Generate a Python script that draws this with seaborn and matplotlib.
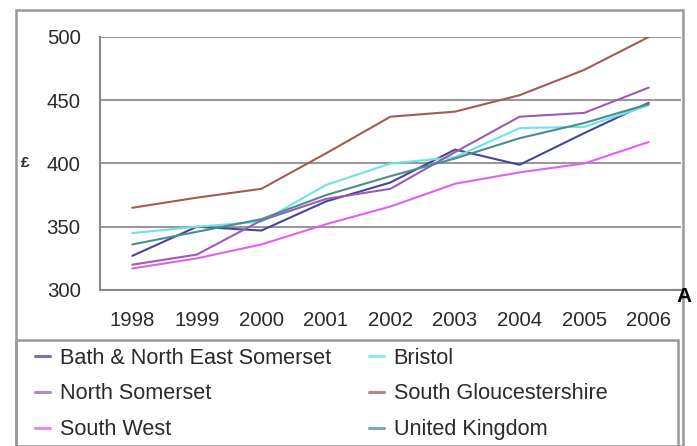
import pandas as pd
import seaborn as sns
import matplotlib.pyplot as plt
from matplotlib.patches import Rectangle
from matplotlib.ticker import FixedLocator

# --- Data ---
years = ["1998", "1999", "2000", "2001", "2002", "2003", "2004", "2005", "2006"]
bath_nes = [327, 350, 347, 370, 385, 411, 399, 424, 448]
bristol = [345, 350, 354, 383, 400, 405, 428, 429, 446]
north_somerset = [320, 328, 355, 372, 380, 409, 437, 440, 460]
south_glos = [365, 373, 380, 408, 437, 441, 454, 474, 500]
south_west = [317, 325, 336, 352, 366, 384, 393, 400, 417]
uk = [336, 346, 356, 375, 390, 404, 420, 432, 447]

series_names = ["Bath & North East Somerset", "Bristol", "North Somerset",
                "South Gloucestershire", "South West", "United Kingdom"]
series_values = [bath_nes, bristol, north_somerset, south_glos, south_west, uk]
colours = ["#46469a", "#6ee3e3", "#9a5cb8", "#a25c52", "#dc64ec", "#4d8c8c"]

rows = []
for name, vals in zip(series_names, series_values):
    for i, v in enumerate(vals):
        rows.append({"Year": i, "Value": v, "Area": name})
df = pd.DataFrame(rows)

sns.set_style("white")
plt.rcParams['font.family'] = ['Liberation Sans', 'DejaVu Sans']
TXT = "#2a2a2a"
W, H = 697, 446

fig = plt.figure(figsize=(6.97, 4.46), dpi=100)
ax = fig.add_axes([100 / W, (H - 290) / H, 581 / W, 253 / H])

sns.lineplot(data=df, x="Year", y="Value", hue="Area", hue_order=series_names,
             palette=dict(zip(series_names, colours)), linewidth=1.5,
             legend=False, ax=ax)

ax.set_xlim(-0.5, 8.5)
ax.set_ylim(300, 500)
ax.set_yticks([300, 350, 400, 450, 500])
ax.set_xticks(range(len(years)))
ax.set_xticklabels(years)
ax.xaxis.set_minor_locator(FixedLocator([i + 0.5 for i in range(-1, 8)]))
ax.tick_params(axis="x", which="major", length=0, pad=15, labelsize=14.7, labelcolor=TXT)
ax.tick_params(axis="x", which="minor", length=4, width=1.2, color="#888", direction="out")
ax.tick_params(axis="y", length=5, width=1.2, color="#888", direction="out",
               pad=9, labelsize=14.7, labelcolor=TXT)
ax.set_xlabel("")
ax.set_ylabel("")
ax.grid(axis="y", color="#999999", linewidth=1.5)
ax.set_axisbelow(True)
for s in ["top", "right"]:
    ax.spines[s].set_visible(False)
for s in ["left", "bottom"]:
    ax.spines[s].set_color("#888888")
    ax.spines[s].set_linewidth(1.5)

# outer frame and legend box
fig.patches.append(Rectangle((16 / W, 0), 667 / W, (H - 10) / H, transform=fig.transFigure,
                             fill=False, edgecolor="#999999", linewidth=1.8))
fig.patches.append(Rectangle((16 / W, -0.01), 662 / W, (H - 340) / H + 0.01,
                             transform=fig.transFigure, fill=False,
                             edgecolor="#999999", linewidth=1.8))

# legend filled row by row (matplotlib fills columns, so reorder)
handles = [plt.Line2D([], [], color=c, linewidth=2.2, alpha=0.75) for c in colours]
order = [0, 2, 4, 1, 3, 5]
fig.legend([handles[i] for i in order], [series_names[i] for i in order],
           ncol=2, loc="upper left", bbox_to_anchor=(26 / W, (H - 339) / H),
           frameon=False, fontsize=15.6, handlelength=0.7, handletextpad=0.45,
           columnspacing=1.75, labelspacing=0.68, labelcolor=TXT, borderaxespad=0)

fig.text(25 / W, (H - 163) / H, "£", fontsize=11, fontweight="bold", color=TXT,
         ha="center", va="center")
fig.text(684 / W, (H - 297) / H, "A", fontsize=15, fontweight="bold", color="black",
         ha="center", va="center")

plt.savefig("out.png", dpi=100)
